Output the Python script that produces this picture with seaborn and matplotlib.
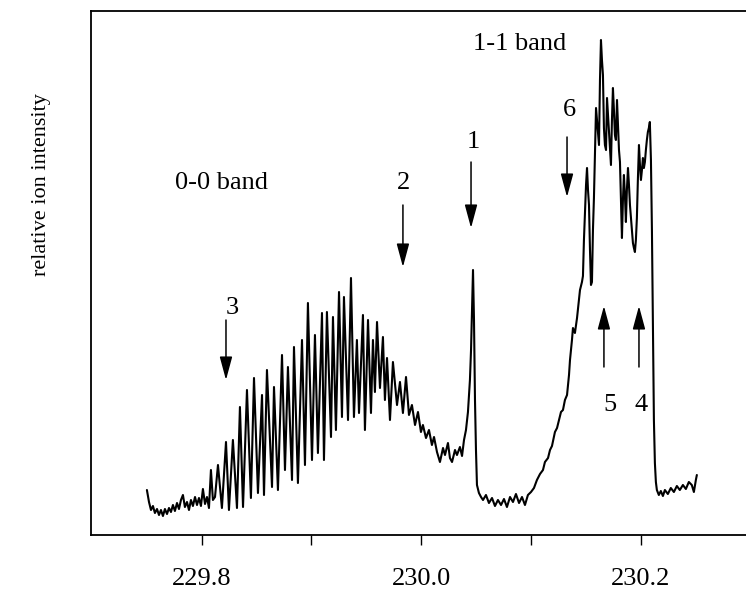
import matplotlib
matplotlib.use("Agg")
import matplotlib.pyplot as plt
import seaborn as sns
import pandas as pd

# ---- data (wavelength in nm, relative ion intensity in arbitrary units) ----
wavelength = [
    229.7502, 229.7521, 229.7539, 229.7557, 229.7575, 229.7594, 229.7612, 229.7630, 229.7648, 229.7666,
    229.7685, 229.7703, 229.7721, 229.7739, 229.7757, 229.7776, 229.7794, 229.7812, 229.7830, 229.7848,
    229.7867, 229.7885, 229.7903, 229.7921, 229.7940, 229.7958, 229.7976, 229.7994, 229.8012, 229.8031,
    229.8049, 229.8067, 229.8085, 229.8103, 229.8122, 229.8149, 229.8185, 229.8222, 229.8249, 229.8285,
    229.8322, 229.8349, 229.8377, 229.8413, 229.8449, 229.8477, 229.8513, 229.8550, 229.8568, 229.8595,
    229.8641, 229.8659, 229.8695, 229.8732, 229.8759, 229.8786, 229.8823, 229.8841, 229.8877, 229.8914,
    229.8941, 229.8968, 229.9005, 229.9032, 229.9059, 229.9096, 229.9114, 229.9141, 229.9178, 229.9196,
    229.9223, 229.9251, 229.9278, 229.9296, 229.9333, 229.9360, 229.9387, 229.9414, 229.9433, 229.9469,
    229.9487, 229.9515, 229.9542, 229.9560, 229.9578, 229.9597, 229.9624, 229.9651, 229.9669, 229.9688,
    229.9715, 229.9742, 229.9779, 229.9806, 229.9833, 229.9861, 229.9888, 229.9915, 229.9943, 229.9970,
    229.9997, 230.0015, 230.0043, 230.0070, 230.0097, 230.0116, 230.0143, 230.0170, 230.0198, 230.0216,
    230.0243, 230.0261, 230.0280, 230.0307, 230.0325, 230.0352, 230.0371, 230.0389, 230.0407, 230.0425,
    230.0443, 230.0453, 230.0462, 230.0471, 230.0480, 230.0489, 230.0498, 230.0507, 230.0525, 230.0544,
    230.0562, 230.0589, 230.0616, 230.0644, 230.0671, 230.0698, 230.0726, 230.0753, 230.0780, 230.0808,
    230.0835, 230.0862, 230.0890, 230.0917, 230.0944, 230.0971, 230.0999, 230.1026, 230.1053, 230.1081,
    230.1108, 230.1126, 230.1154, 230.1172, 230.1190, 230.1217, 230.1236, 230.1254, 230.1272, 230.1290,
    230.1308, 230.1327, 230.1345, 230.1354, 230.1372, 230.1381, 230.1399, 230.1418, 230.1436, 230.1445,
    230.1463, 230.1472, 230.1481, 230.1490, 230.1500, 230.1509, 230.1518, 230.1527, 230.1536, 230.1545,
    230.1554, 230.1563, 230.1572, 230.1582, 230.1591, 230.1600, 230.1609, 230.1618, 230.1627, 230.1636,
    230.1645, 230.1654, 230.1663, 230.1672, 230.1682, 230.1691, 230.1700, 230.1709, 230.1718, 230.1727,
    230.1736, 230.1745, 230.1754, 230.1763, 230.1772, 230.1782, 230.1791, 230.1800, 230.1809, 230.1818,
    230.1827, 230.1836, 230.1845, 230.1854, 230.1863, 230.1872, 230.1882, 230.1891, 230.1900, 230.1909,
    230.1918, 230.1927, 230.1936, 230.1945, 230.1954, 230.1963, 230.1972, 230.1982, 230.1991, 230.2000,
    230.2009, 230.2018, 230.2027, 230.2036, 230.2045, 230.2054, 230.2063, 230.2072, 230.2081, 230.2091,
    230.2100, 230.2109, 230.2118, 230.2127, 230.2136, 230.2145, 230.2163, 230.2181, 230.2200, 230.2218,
    230.2245, 230.2272, 230.2300, 230.2327, 230.2354, 230.2382, 230.2409, 230.2436, 230.2463, 230.2482,
    230.2500, 230.2509,
]
intensity = [
    45, 33, 25, 29, 22, 26, 20, 25, 19, 26,
    21, 27, 23, 30, 24, 32, 26, 35, 40, 28,
    33, 25, 35, 29, 38, 30, 37, 29, 46, 31,
    38, 27, 65, 35, 38, 70, 27, 93, 25, 95,
    27, 128, 28, 145, 37, 157, 42, 140, 40, 165,
    48, 148, 45, 180, 65, 168, 55, 188, 52, 195,
    70, 232, 75, 200, 82, 222, 75, 223, 98, 218,
    105, 243, 118, 238, 115, 257, 118, 195, 122, 220,
    105, 215, 122, 195, 143, 213, 147, 198, 135, 177,
    115, 173, 130, 153, 122, 158, 120, 130, 110, 123,
    103, 110, 97, 105, 90, 98, 83, 73, 87, 80,
    92, 77, 73, 85, 80, 88, 79, 95, 105, 123,
    155, 185, 225, 265, 215, 135, 85, 50, 42, 38,
    35, 40, 32, 37, 29, 35, 30, 36, 28, 38,
    33, 41, 32, 38, 30, 40, 43, 47, 55, 61,
    65, 73, 77, 85, 89, 103, 107, 115, 123, 125,
    135, 140, 160, 175, 195, 207, 202, 217, 235, 245,
    253, 259, 295, 322, 350, 367, 345, 330, 285, 250,
    253, 305, 337, 385, 427, 415, 403, 390, 455, 495,
    475, 460, 407, 390, 385, 437, 420, 402, 385, 370,
    415, 447, 425, 400, 395, 435, 410, 385, 373, 335,
    297, 335, 360, 340, 313, 345, 367, 350, 330, 317,
    303, 292, 287, 283, 295, 317, 355, 390, 370, 355,
    365, 377, 367, 373, 385, 395, 403, 407, 413, 375,
    305, 205, 115, 72, 53, 45, 40, 44, 39, 45,
    41, 47, 43, 49, 45, 50, 46, 53, 50, 43,
    55, 60,
]

# annotation arrows: label, arrow x, tail, tip, label x, label y
marker_labels = ["1", "2", "3", "4", "5", "6"]
marker_x = [230.0453, 229.9833, 229.8222, 230.1982, 230.1663, 230.1327]
marker_tail = [373, 330, 215, 168, 168, 398]
marker_tip = [307, 268, 155, 229, 229, 338]
marker_label_x = [230.0471, 229.9842, 229.8276, 230.2000, 230.1718, 230.1345]
marker_label_y = [393, 352, 227, 130, 130, 425]

band_labels = ["0-0 band", "1-1 band"]
band_x = [229.8178, 230.0899]
band_y = [352, 491]

x_ticks = [229.8, 230.0, 230.2]
x_minor = [229.9, 230.1]
x_ticklabels = ["229.8", "230.0", "230.2"]

# ---- plotting ----
sns.set_style("white")
plt.rcParams["font.family"] = ["Liberation Serif", "DejaVu Serif"]

fig = plt.figure(figsize=(7.46, 5.91), dpi=100)
ax = fig.add_axes([91 / 746, 1 - 535 / 591, 660 / 746, (535 - 11) / 591])

df = pd.DataFrame({"wavelength": wavelength, "intensity": intensity})
sns.lineplot(data=df, x="wavelength", y="intensity", ax=ax, color="black",
             lw=1.5, sort=False, estimator=None)

ax.set_xlim(229.6993, 230.3002)
ax.set_ylim(0, 524)

for lab, x, t0, t1, lx, ly in zip(marker_labels, marker_x, marker_tail, marker_tip,
                                   marker_label_x, marker_label_y):
    ax.annotate("", xy=(x, t1), xytext=(x, t0),
                arrowprops=dict(arrowstyle="-|>,head_length=1.3,head_width=0.35",
                                mutation_scale=11, lw=1.1, color="black",
                                shrinkA=0, shrinkB=0))
    ax.text(lx, ly, lab, ha="center", va="center", fontsize=19, color="black")

for lab, x, y in zip(band_labels, band_x, band_y):
    ax.text(x, y, lab, ha="center", va="center", fontsize=19, color="black")

ax.set_xticks(x_ticks)
ax.set_xticklabels(x_ticklabels)
ax.set_xticks(x_minor, minor=True)
ax.set_yticks([])
ax.tick_params(axis="x", which="both", direction="out", length=7, width=1.0,
               colors="black", pad=17, labelsize=19, bottom=True)
ax.set_xlabel("")
ax.set_ylabel("")

for side in ["left", "top", "bottom", "right"]:
    ax.spines[side].set_visible(True)
    ax.spines[side].set_color("black")
    ax.spines[side].set_linewidth(1.3)

fig.text(42 / 746, 1 - 185 / 591, "relative ion intensity", rotation=90,
         ha="center", va="center", fontsize=16, color="black")

fig.savefig("out.png", dpi=100)
